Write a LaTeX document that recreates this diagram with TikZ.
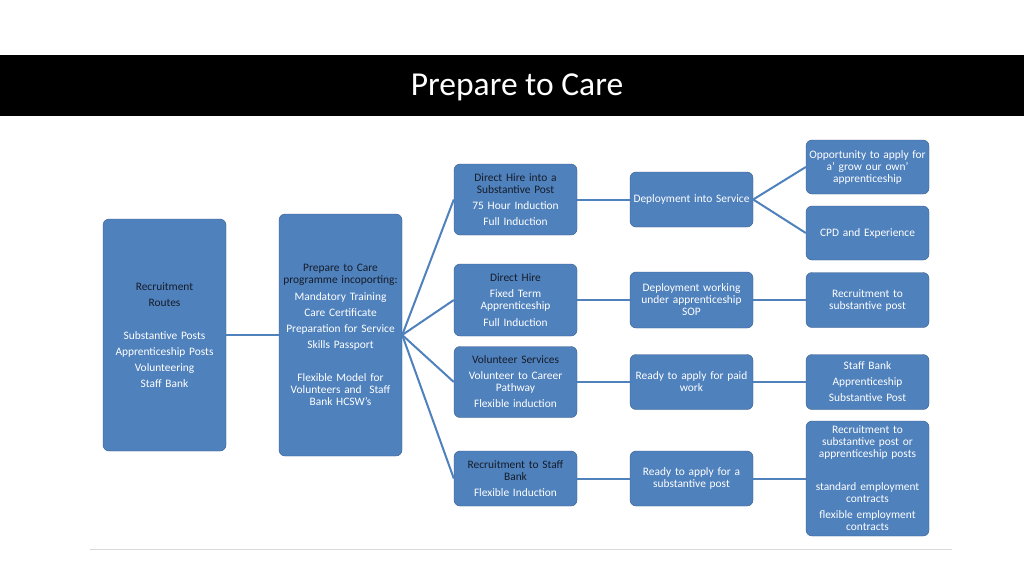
\documentclass[tikz,border=0pt]{standalone}
\usepackage{fontspec}
\setmainfont{Carlito}
\definecolor{boxfill}{RGB}{79, 129, 189}
\definecolor{boxedge}{RGB}{56, 93, 138}
\definecolor{linkblue}{RGB}{79, 129, 189}
\definecolor{headtext}{RGB}{22, 28, 40}
\definecolor{rulegray}{RGB}{217, 217, 217}
\newcommand{\boxhead}[1]{\textcolor{headtext}{#1}}

\begin{document}
\begin{tikzpicture}[
          x=1pt, y=-1pt,
          bx/.style={rectangle, rounded corners=6pt,
                     draw=boxedge, fill=boxfill, thin,
                     minimum width=123pt, text width=121pt,
                     align=center, inner sep=0pt, text=white,
                     font=\fontsize{11.4}{12}\selectfont},
          link/.style={draw=linkblue, line width=2pt},
      ]
      \useasboundingbox[fill=white] (0, 0) rectangle (1024, 576);
      % title bar
      \fill[black] (0, 55) rectangle (1024, 116);
      \node[text=white, font=\fontsize{33.5}{40}\selectfont] (title)
          at (517, 87) {Prepare to Care};
      \draw[rulegray] (90, 549) -- (952, 549);

      % first two columns
      \node[bx, minimum height=232pt] (rec) at (164.5, 335)
          {\boxhead{Recruitment}\\[4pt]
           \boxhead{Routes}\\[21pt]
           Substantive Posts\\[4pt]
           Apprenticeship Posts\\[4pt]
           Volunteering\\[4pt]
           Staff Bank};
      \node[bx, minimum height=242pt] (prep) at (340.5, 335)
          {\boxhead{Prepare to Care}\\
           \boxhead{programme incoporting:}\\[5pt]
           Mandatory Training\\[4pt]
           Care Certificate\\[4pt]
           Preparation for Service\\[4pt]
           Skills Passport\\[21pt]
           Flexible Model for\\
           Volunteers and~ Staff\\
           Bank HCSW's};

      % routes
      \node[bx, minimum height=71pt] (hire) at (515.5, 199.5)
          {\boxhead{Direct Hire into a}\\
           \boxhead{Substantive Post}\\[4pt]
           75 Hour Induction\\[4pt]
           Full Induction};
      \node[bx, minimum height=72pt] (direct) at (515.5, 300)
          {\boxhead{Direct Hire}\\[4pt]
           Fixed Term\\
           Apprenticeship\\[5pt]
           Full Induction};
      \node[bx, minimum height=71pt] (vol) at (515.5, 382)
          {\boxhead{Volunteer Services}\\[4pt]
           Volunteer to Career\\
           Pathway\\[4pt]
           Flexible induction};
      \node[bx, minimum height=55pt] (bank) at (515.5, 478.5)
          {\boxhead{Recruitment to Staff}\\
           \boxhead{Bank}\\[4pt]
           Flexible Induction};

      % outcomes
      \node[bx, minimum height=55pt] (deploy) at (691.5, 199.5)
          {Deployment into Service};
      \node[bx, minimum height=56pt] (sop) at (691.5, 300)
          {Deployment working\\
           under apprenticeship\\
           SOP};
      \node[bx, minimum height=55pt] (paid) at (691.5, 382)
          {Ready to apply for paid\\
           work};
      \node[bx, minimum height=55pt] (subst) at (691.5, 478.5)
          {Ready to apply for a\\
           substantive post};

      % next steps
      \node[bx, minimum height=54pt] (grow) at (867.5, 167)
          {Opportunity to apply for\\
           a' grow our own'\\
           apprenticeship};
      \node[bx, minimum height=54pt] (cpd) at (867.5, 233)
          {CPD and Experience};
      \node[bx, minimum height=55pt] (recsub) at (867.5, 300)
          {Recruitment to\\
           substantive post};
      \node[bx, minimum height=55pt] (options) at (867.5, 382)
          {Staff Bank\\[4pt]
           Apprenticeship\\[4pt]
           Substantive Post};
      \node[bx, minimum height=115pt] (contracts) at (867.5, 478.5)
          {Recruitment to\\
           substantive post or\\
           apprenticeship posts\\[21pt]
           standard employment\\
           contracts\\[4pt]
           flexible employment\\
           contracts};

      % connectors
      \draw[link] (rec) -- (prep);
      \foreach \r in {hire, direct, vol, bank}
          \draw[link] (prep.east) -- (\r.west);
      \draw[link] (hire) -- (deploy);
      \draw[link] (direct) -- (sop);
      \draw[link] (vol) -- (paid);
      \draw[link] (bank) -- (subst);
      \draw[link] (deploy.east) -- (grow.west);
      \draw[link] (deploy.east) -- (cpd.west);
      \draw[link] (sop) -- (recsub);
      \draw[link] (paid) -- (options);
      \draw[link] (subst) -- (contracts);
      \end{tikzpicture}
\end{document}
